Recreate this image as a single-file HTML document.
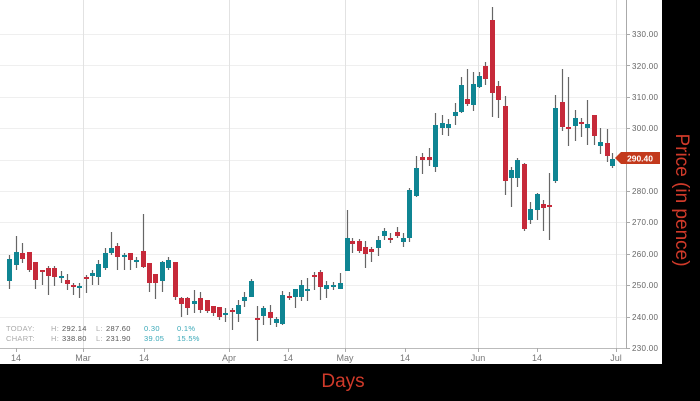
<!DOCTYPE html>
<html><head><meta charset="utf-8"><style>
html,body{margin:0;padding:0;background:#000;width:700px;height:401px;overflow:hidden}
svg{display:block}
text{font-family:"Liberation Sans",sans-serif}
</style></head><body>
<svg width="700" height="401" viewBox="0 0 700 401" xmlns="http://www.w3.org/2000/svg">
<rect x="0" y="0" width="700" height="401" fill="#000"/>
<rect x="0" y="0" width="662" height="364" fill="#fff"/>
<g stroke="#efefef" stroke-width="1">
<line x1="0" y1="34.5" x2="626" y2="34.5"/><line x1="0" y1="65.5" x2="626" y2="65.5"/>
<line x1="0" y1="97.5" x2="626" y2="97.5"/><line x1="0" y1="128.5" x2="626" y2="128.5"/>
<line x1="0" y1="160.5" x2="626" y2="160.5"/><line x1="0" y1="191.5" x2="626" y2="191.5"/>
<line x1="0" y1="222.5" x2="626" y2="222.5"/><line x1="0" y1="254.5" x2="626" y2="254.5"/>
<line x1="0" y1="285.5" x2="626" y2="285.5"/><line x1="0" y1="317.5" x2="626" y2="317.5"/>
</g>
<g stroke="#e2e2e2" stroke-width="1">
<line x1="83.5" y1="0" x2="83.5" y2="348"/><line x1="229.5" y1="0" x2="229.5" y2="348"/>
<line x1="345.5" y1="0" x2="345.5" y2="348"/><line x1="478.5" y1="0" x2="478.5" y2="348"/>
<line x1="616.5" y1="0" x2="616.5" y2="348"/>
</g>
<line x1="626.5" y1="0" x2="626.5" y2="349" stroke="#aaa"/>
<line x1="0" y1="348.5" x2="627" y2="348.5" stroke="#bbb"/>
<g stroke="#aaa">
<line x1="16.5" y1="348" x2="16.5" y2="352"/><line x1="83.5" y1="348" x2="83.5" y2="352"/><line x1="144.5" y1="348" x2="144.5" y2="352"/><line x1="229.5" y1="348" x2="229.5" y2="352"/><line x1="288.5" y1="348" x2="288.5" y2="352"/><line x1="345.5" y1="348" x2="345.5" y2="352"/><line x1="405.5" y1="348" x2="405.5" y2="352"/><line x1="478.5" y1="348" x2="478.5" y2="352"/><line x1="537.5" y1="348" x2="537.5" y2="352"/><line x1="616.5" y1="348" x2="616.5" y2="352"/>
<line x1="626" y1="34.5" x2="630" y2="34.5"/><line x1="626" y1="65.5" x2="630" y2="65.5"/><line x1="626" y1="97.5" x2="630" y2="97.5"/><line x1="626" y1="128.5" x2="630" y2="128.5"/><line x1="626" y1="160.5" x2="630" y2="160.5"/><line x1="626" y1="191.5" x2="630" y2="191.5"/><line x1="626" y1="222.5" x2="630" y2="222.5"/><line x1="626" y1="254.5" x2="630" y2="254.5"/><line x1="626" y1="285.5" x2="630" y2="285.5"/><line x1="626" y1="317.5" x2="630" y2="317.5"/><line x1="626" y1="348.5" x2="630" y2="348.5"/>
</g>
<g font-size="8" fill="#666" letter-spacing="0.3">
<text x="632" y="37">330.00</text><text x="632" y="69">320.00</text><text x="632" y="100">310.00</text><text x="632" y="131">300.00</text><text x="632" y="194">280.00</text><text x="632" y="225">270.00</text><text x="632" y="257">260.00</text><text x="632" y="288">250.00</text><text x="632" y="320">240.00</text><text x="632" y="351">230.00</text>
</g>
<g font-size="9" fill="#777" text-anchor="middle">
<text x="16" y="361">14</text><text x="83" y="361">Mar</text><text x="144" y="361">14</text><text x="229" y="361">Apr</text><text x="288" y="361">14</text><text x="345" y="361">May</text><text x="405" y="361">14</text><text x="478" y="361">Jun</text><text x="537" y="361">14</text><text x="616" y="361">Jul</text>
</g>
<g font-size="7.5" letter-spacing="0.3">
<text x="6" y="331" fill="#aaa">TODAY:</text><text x="51" y="331" fill="#aaa">H:</text><text x="62" y="331" fill="#555">292.14</text><text x="96" y="331" fill="#aaa">L:</text><text x="106" y="331" fill="#555">287.60</text><text x="144" y="331" fill="#3aa8b8">0.30</text><text x="177" y="331" fill="#3aa8b8">0.1%</text>
<text x="6" y="341" fill="#aaa">CHART:</text><text x="51" y="341" fill="#aaa">H:</text><text x="62" y="341" fill="#555">338.80</text><text x="96" y="341" fill="#aaa">L:</text><text x="106" y="341" fill="#555">231.90</text><text x="144" y="341" fill="#3aa8b8">39.05</text><text x="177" y="341" fill="#3aa8b8">15.5%</text>
</g>
<path stroke="#666" stroke-width="1.2" fill="none" d="M9.5 255V289M16.5 236V270M22.5 243V263M29.5 252V272M35.5 262V289M42.5 270V285M48.5 266V295M54.5 266V286M61.5 271V283M67.5 274V290M73.5 283V295M79.5 283V298M86.5 275V293M92.5 270V285M98.5 260V285M105.5 248V270M111.5 232V255M117.5 243V270M124.5 253V270M130.5 253V270M136.5 257V268M143.5 214V268M149.5 263V292M155.5 274V299M162.5 261V292M168.5 257V270M175.5 262V300M181.5 297V317M187.5 297V315M194.5 290V313M200.5 292V313M207.5 300V313M213.5 306V316M219.5 307V320M225.5 308V322M232.5 308V330M238.5 300V322M244.5 292V307M251.5 279V297M257.5 306V341M263.5 306V325M270.5 305V325M276.5 317V327M282.5 291V325M289.5 292V300M295.5 289V308M301.5 280V301M307.5 278V301M314.5 272V290M320.5 270V300M326.5 281V298M333.5 282V290M340.5 273V289M347.5 210V271M352.5 238V253M359.5 239V253M365.5 241V268M371.5 247V262M378.5 236V256M384.5 228V240M390.5 233V243M397.5 227V238M403.5 233V247M409.5 188V242M416.5 156V197M422.5 153V174M429.5 148V166M435.5 113V172M442.5 115V135M448.5 119V136M455.5 103V125M461.5 77V113M467.5 69V106M473.5 72V111M479.5 72V88M485.5 62V85M492.5 7V117M498.5 81V118M505.5 96V195M511.5 167V207M517.5 158V187M524.5 163V231M530.5 202V224M537.5 193V220M543.5 200V231M549.5 173V240M555.5 95V183M562.5 69V131M568.5 77V146M575.5 110V141M581.5 118V137M587.5 100V145M594.5 115V145M600.5 128V154M607.5 129V162M612.5 153V168"/>
<g fill="#0f8593">
<rect x="7" y="259" width="5" height="22"/><rect x="14" y="252" width="5" height="13"/><rect x="59" y="276" width="5" height="2"/><rect x="77" y="286" width="5" height="2"/><rect x="90" y="273" width="5" height="3"/><rect x="96" y="264" width="5" height="13"/><rect x="103" y="253" width="5" height="15"/><rect x="109" y="248" width="5" height="5"/><rect x="122" y="255" width="5" height="2"/><rect x="134" y="260" width="5" height="2"/><rect x="160" y="262" width="5" height="19"/><rect x="166" y="260" width="5" height="8"/><rect x="192" y="301" width="5" height="3"/><rect x="223" y="313" width="5" height="2"/><rect x="236" y="305" width="5" height="9"/><rect x="242" y="297" width="5" height="4"/><rect x="249" y="281" width="5" height="16"/><rect x="261" y="308" width="5" height="8"/><rect x="274" y="319" width="5" height="4"/><rect x="280" y="295" width="5" height="29"/><rect x="293" y="289" width="5" height="8"/><rect x="299" y="285" width="5" height="12"/><rect x="305" y="289" width="5" height="2"/><rect x="324" y="285" width="5" height="4"/><rect x="331" y="285" width="5" height="2"/><rect x="338" y="283" width="5" height="6"/><rect x="345" y="238" width="5" height="33"/><rect x="376" y="240" width="5" height="8"/><rect x="382" y="231" width="5" height="5"/><rect x="401" y="238" width="5" height="4"/><rect x="407" y="190" width="5" height="48"/><rect x="414" y="168" width="5" height="28"/><rect x="433" y="125" width="5" height="42"/><rect x="440" y="123" width="5" height="5"/><rect x="446" y="124" width="5" height="4"/><rect x="453" y="112" width="5" height="4"/><rect x="459" y="85" width="5" height="27"/><rect x="471" y="84" width="5" height="21"/><rect x="477" y="76" width="5" height="11"/><rect x="509" y="170" width="5" height="8"/><rect x="515" y="160" width="5" height="18"/><rect x="528" y="209" width="5" height="11"/><rect x="535" y="194" width="5" height="16"/><rect x="553" y="108" width="5" height="73"/><rect x="573" y="118" width="5" height="8"/><rect x="585" y="124" width="5" height="4"/><rect x="598" y="142" width="5" height="4"/><rect x="610" y="159" width="5" height="7"/>
</g>
<g fill="#c62a3a">
<rect x="20" y="253" width="5" height="6"/><rect x="27" y="252" width="5" height="18"/><rect x="33" y="262" width="5" height="18"/><rect x="40" y="270" width="5" height="2"/><rect x="46" y="268" width="5" height="8"/><rect x="52" y="268" width="5" height="9"/><rect x="65" y="280" width="5" height="4"/><rect x="71" y="285" width="5" height="2"/><rect x="84" y="277" width="5" height="2"/><rect x="115" y="246" width="5" height="11"/><rect x="128" y="253" width="5" height="7"/><rect x="141" y="251" width="5" height="16"/><rect x="147" y="263" width="5" height="20"/><rect x="153" y="274" width="5" height="9"/><rect x="173" y="262" width="5" height="35"/><rect x="179" y="298" width="5" height="6"/><rect x="185" y="298" width="5" height="10"/><rect x="198" y="298" width="5" height="12"/><rect x="205" y="300" width="5" height="11"/><rect x="211" y="306" width="5" height="7"/><rect x="217" y="307" width="5" height="10"/><rect x="230" y="310" width="5" height="2"/><rect x="255" y="318" width="5" height="2"/><rect x="268" y="312" width="5" height="6"/><rect x="287" y="296" width="5" height="2"/><rect x="312" y="275" width="5" height="2"/><rect x="318" y="272" width="5" height="15"/><rect x="350" y="241" width="5" height="3"/><rect x="357" y="241" width="5" height="10"/><rect x="363" y="247" width="5" height="7"/><rect x="369" y="249" width="5" height="3"/><rect x="388" y="238" width="5" height="2"/><rect x="395" y="232" width="5" height="4"/><rect x="420" y="157" width="5" height="3"/><rect x="427" y="157" width="5" height="3"/><rect x="465" y="99" width="5" height="5"/><rect x="483" y="66" width="5" height="13"/><rect x="490" y="20" width="5" height="73"/><rect x="496" y="86" width="5" height="14"/><rect x="503" y="106" width="5" height="75"/><rect x="522" y="164" width="5" height="65"/><rect x="541" y="204" width="5" height="4"/><rect x="547" y="205" width="5" height="2"/><rect x="560" y="102" width="5" height="25"/><rect x="566" y="127" width="5" height="2"/><rect x="579" y="122" width="5" height="2"/><rect x="592" y="115" width="5" height="21"/><rect x="605" y="143" width="5" height="13"/>
</g>
<polygon points="615,158 621,152 660,152 660,164 621,164" fill="#c3391c"/>
<text x="640" y="161.5" font-size="8.5" font-weight="bold" fill="#fff" text-anchor="middle">290.40</text>
<text transform="translate(676,200) rotate(90)" font-size="19" fill="#d03a2a" text-anchor="middle">Price (in pence)</text>
<text x="343" y="387" font-size="19" fill="#d03a2a" text-anchor="middle">Days</text>
</svg>
</body></html>
